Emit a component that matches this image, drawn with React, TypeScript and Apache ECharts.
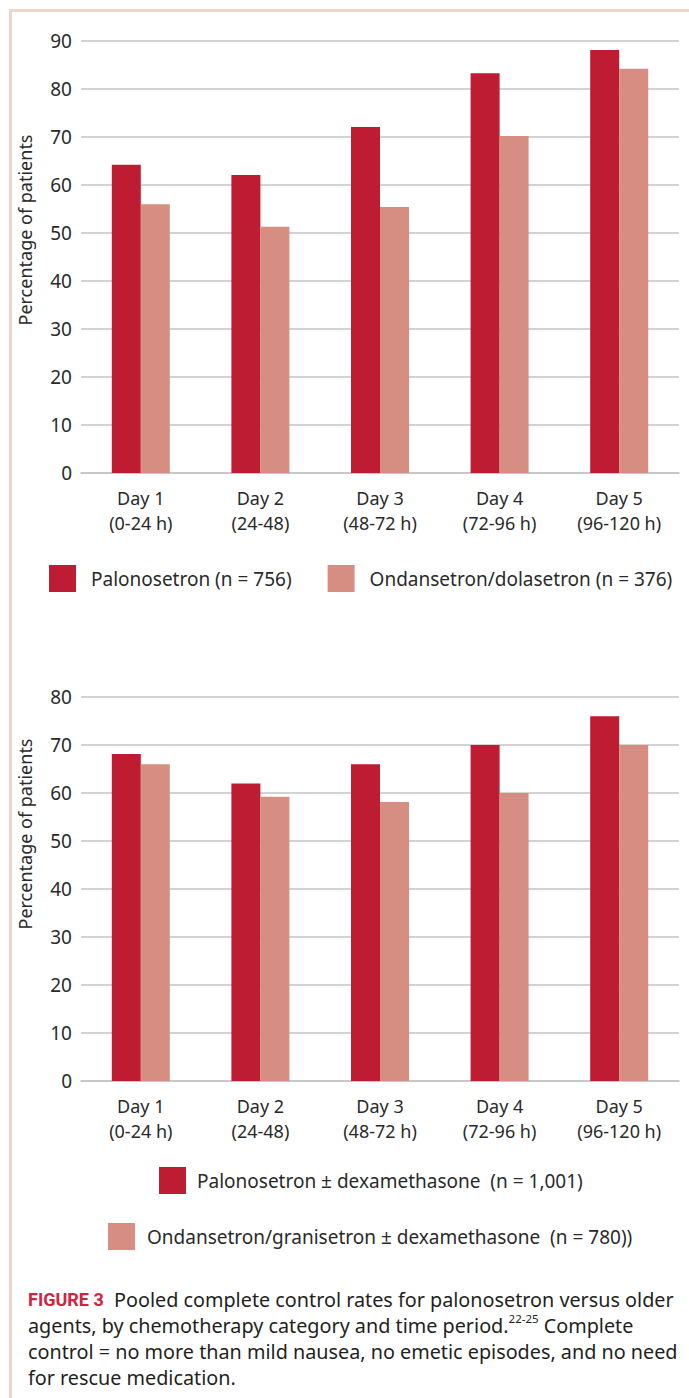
import React, { useEffect, useRef } from "react";
import * as echarts from "echarts";

const days = ["Day 1\n(0-24 h)", "Day 2\n(24-48)", "Day 3\n(48-72 h)", "Day 4\n(72-96 h)", "Day 5\n(96-120 h)"];

const topNames = ["Palonosetron (n = 756)", "Ondansetron/dolasetron (n = 376)"];
const topPalonosetron = [64.2, 62.1, 72.1, 83.3, 88.1];
const topOndansetron = [56.0, 51.3, 55.4, 70.2, 84.2];

const bottomNames = ["Palonosetron ± dexamethasone  (n = 1,001)", "Ondansetron/granisetron ± dexamethasone  (n = 780))"];
const bottomPalonosetron = [68.1, 62.0, 66.0, 70.0, 76.0];
const bottomOndansetron = [66.0, 59.2, 58.1, 60.0, 70.0];

const yAxisTitle = "Percentage of patients";
const captionLines = [
  "{fig|FIGURE 3}  Pooled complete control rates for palonosetron versus older",
  "agents, by chemotherapy category and time period.{sup|22-25} Complete",
  "control = no more than mild nausea, no emetic episodes, and no need",
  "for rescue medication.",
];

const DARK = "#bd1c32";
const LIGHT = "#d58e81";
const FONT = "Noto Sans";
const TEXT = "#2a2a2a";
const GRIDC = "#c4c4c4";

export default function App() {
  const ref = useRef<HTMLDivElement>(null);
  useEffect(() => {
    document.body.style.margin = "0";
    const chart = echarts.init(ref.current!, undefined, { renderer: "svg" });
    const xAxisBase = (gridIndex: number) => ({
      type: "category",
      gridIndex,
      data: days,
      axisTick: { show: false },
      axisLine: { show: true, lineStyle: { color: GRIDC, width: 1.5 } },
      axisLabel: { fontFamily: FONT, fontSize: 18, color: TEXT, lineHeight: 25, margin: 12 },
    });
    const yAxisBase = (gridIndex: number, max: number) => ({
      type: "value",
      gridIndex,
      min: 0,
      max,
      interval: 10,
      axisLine: { show: false },
      axisTick: { show: false },
      axisLabel: { fontFamily: FONT, fontSize: 19, color: TEXT, margin: 9 },
      splitLine: { lineStyle: { color: GRIDC, width: 1.5 } },
    });
    const legendText = (pad: number) => ({ fontFamily: FONT, fontSize: 19, color: TEXT, padding: [0, 0, 0, pad] });
    chart.setOption({
      animation: false,
      grid: [
        { left: 81, right: 10, top: 41, height: 432 },
        { left: 81, right: 10, top: 697, height: 384 },
      ],
      xAxis: [xAxisBase(0), xAxisBase(1)],
      yAxis: [yAxisBase(0, 90), yAxisBase(1, 80)],
      legend: [
        {
          left: 49, top: 565, padding: 0, itemWidth: 27, itemHeight: 27, itemGap: 36, icon: "rect",
          data: topNames, textStyle: legendText(10), selectedMode: false,
        },
        {
          left: 159, top: 1167, padding: 0, itemWidth: 27, itemHeight: 27, icon: "rect",
          data: [bottomNames[0]], textStyle: legendText(6), selectedMode: false,
        },
        {
          left: 108, top: 1223, padding: 0, itemWidth: 27, itemHeight: 27, icon: "rect",
          data: [bottomNames[1]], textStyle: legendText(7), selectedMode: false,
        },
      ],
      series: [
        { type: "bar", name: topNames[0], xAxisIndex: 0, yAxisIndex: 0, data: topPalonosetron, barWidth: 29, barGap: "0%", itemStyle: { color: DARK } },
        { type: "bar", name: topNames[1], xAxisIndex: 0, yAxisIndex: 0, data: topOndansetron, barWidth: 29, barGap: "0%", itemStyle: { color: LIGHT } },
        { type: "bar", name: bottomNames[0], xAxisIndex: 1, yAxisIndex: 1, data: bottomPalonosetron, barWidth: 29, barGap: "0%", itemStyle: { color: DARK } },
        { type: "bar", name: bottomNames[1], xAxisIndex: 1, yAxisIndex: 1, data: bottomOndansetron, barWidth: 29, barGap: "0%", itemStyle: { color: LIGHT } },
      ],
      graphic: [
        {
          type: "rect", silent: true, z: -1,
          shape: { x: 10.5, y: 10.5, width: 700, height: 1400 },
          style: { fill: "none", stroke: "#f2d2ca", lineWidth: 3 },
        },
        {
          type: "text", x: 25, y: 230, rotation: Math.PI / 2,
          style: { text: yAxisTitle, fontFamily: FONT, fontSize: 18, fill: TEXT, textAlign: "center", textVerticalAlign: "middle" },
        },
        {
          type: "text", x: 25, y: 834, rotation: Math.PI / 2,
          style: { text: yAxisTitle, fontFamily: FONT, fontSize: 18, fill: TEXT, textAlign: "center", textVerticalAlign: "middle" },
        },
        {
          type: "text", x: 28, y: 1286,
          style: {
            text: captionLines.join("\n"),
            fontFamily: FONT, fontSize: 19.8, fill: "#231f20", lineHeight: 26,
            rich: {
              fig: { fontFamily: "Roboto", fontSize: 18, fontWeight: "bold", fill: "#d2233f", lineHeight: 26 },
              sup: { fontFamily: FONT, fontSize: 11.5, fill: "#231f20", verticalAlign: "top", lineHeight: 20 },
            },
          },
        },
      ],
    });
    return () => chart.dispose();
  }, []);
  return <div ref={ref} style={{ width: 689, height: 1398 }} />;
}
